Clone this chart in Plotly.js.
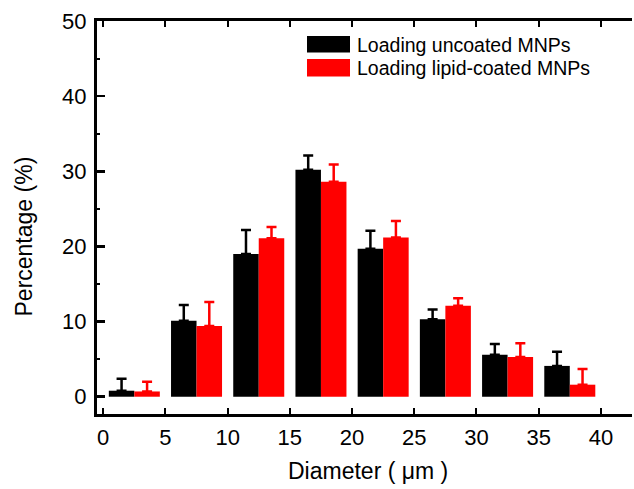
<!DOCTYPE html>
<html>
<head>
<meta charset="utf-8">
<script src="https://cdn.plot.ly/plotly-3.0.1.min.js"></script>
<style>html,body{margin:0;padding:0;background:#fff;}#chart{width:634px;height:489px;}</style>
</head>
<body>
<div id="chart"></div>
<script>
const diameters = [2.5, 7.5, 12.5, 17.5, 22.5, 27.5, 32.5, 37.5];
const uncoated = [0.8, 10.1, 19.0, 30.2, 19.7, 10.3, 5.6, 4.1];
const uncoatedErr = [1.6, 2.1, 3.2, 1.9, 2.4, 1.3, 1.4, 1.9];
const coated = [0.7, 9.4, 21.1, 28.6, 21.2, 12.1, 5.3, 1.6];
const coatedErr = [1.3, 3.2, 1.5, 2.3, 2.2, 1.0, 1.8, 2.1];
const seriesNames = ["Loading uncoated MNPs", "Loading lipid-coated MNPs"];
const xTicks = [0, 5, 10, 15, 20, 25, 30, 35, 40];
const yTicks = [0, 10, 20, 30, 40, 50];
const xTitle = "Diameter ( μm )";
const yTitle = "Percentage (%)";

const font = "Arial, 'Liberation Sans', sans-serif";

const traces = [
  {type: "bar", x: diameters, y: uncoated, name: seriesNames[0],
   marker: {color: "#000000"},
   error_y: {type: "data", array: uncoatedErr, arrayminus: uncoated.map(() => 0), symmetric: false,
             color: "#000000", thickness: 2.5, width: 5}},
  {type: "bar", x: diameters, y: coated, name: seriesNames[1],
   marker: {color: "#ff0000"},
   error_y: {type: "data", array: coatedErr, arrayminus: coated.map(() => 0), symmetric: false,
             color: "#ff0000", thickness: 2.5, width: 5}}
];

const layout = {
  width: 634, height: 489,
  margin: {l: 97, r: 2, t: 21, b: 75},
  paper_bgcolor: "#fff", plot_bgcolor: "#fff",
  barmode: "group", bargap: 0.18, bargroupgap: 0,
  showlegend: false,
  font: {family: font, size: 22, color: "#000"},
  xaxis: {
    range: [-0.5, 42.5], tickvals: xTicks, ticktext: xTicks.map(String),
    ticks: "inside", ticklen: 6, tickwidth: 2, tickcolor: "#000",
    showline: true, linewidth: 3, linecolor: "#000", mirror: "ticks",
    showgrid: false, zeroline: false, ticklabelstandoff: 2,
    tickfont: {family: font, size: 22}
  },
  yaxis: {
    range: [-2.3, 50], tickvals: yTicks, ticktext: yTicks.map(String),
    ticks: "inside", ticklen: 8, tickwidth: 2.5, tickcolor: "#000",
    minor: {tickvals: [5, 15, 25, 35, 45], ticks: "inside", ticklen: 3, tickwidth: 2, tickcolor: "#000"},
    showline: true, linewidth: 3, linecolor: "#000",
    showgrid: false, zeroline: false, ticklabelstandoff: 3,
    tickfont: {family: font, size: 22}
  },
  shapes: [
    {type: "rect", xref: "paper", yref: "paper", x0: 210/535, x1: 253/535, y0: 1 - 31.5/393, y1: 1 - 15/393,
     fillcolor: "#000", line: {width: 0}},
    {type: "rect", xref: "paper", yref: "paper", x0: 210/535, x1: 253/535, y0: 1 - 55.5/393, y1: 1 - 38/393,
     fillcolor: "#ff0000", line: {width: 0}}
  ],
  annotations: [
    {xref: "paper", yref: "paper", x: 258/535, y: 1 - 23.5/393, xanchor: "left", yanchor: "middle",
     text: seriesNames[0], showarrow: false, font: {family: font, size: 19.5}},
    {xref: "paper", yref: "paper", x: 258/535, y: 1 - 47/393, xanchor: "left", yanchor: "middle",
     text: seriesNames[1], showarrow: false, font: {family: font, size: 19.5}},
    {xref: "paper", yref: "paper", x: (368 - 97)/535, y: (414 - 471)/393, xanchor: "center", yanchor: "middle",
     text: xTitle, showarrow: false, font: {family: font, size: 23}},
    {xref: "paper", yref: "paper", x: (23 - 97)/535, y: 1 - (236.5 - 21)/393, xanchor: "center", yanchor: "middle",
     text: yTitle, textangle: -90, showarrow: false, font: {family: font, size: 23}}
  ]
};

Plotly.newPlot("chart", traces, layout, {displayModeBar: false, staticPlot: true});
</script>
</body>
</html>
